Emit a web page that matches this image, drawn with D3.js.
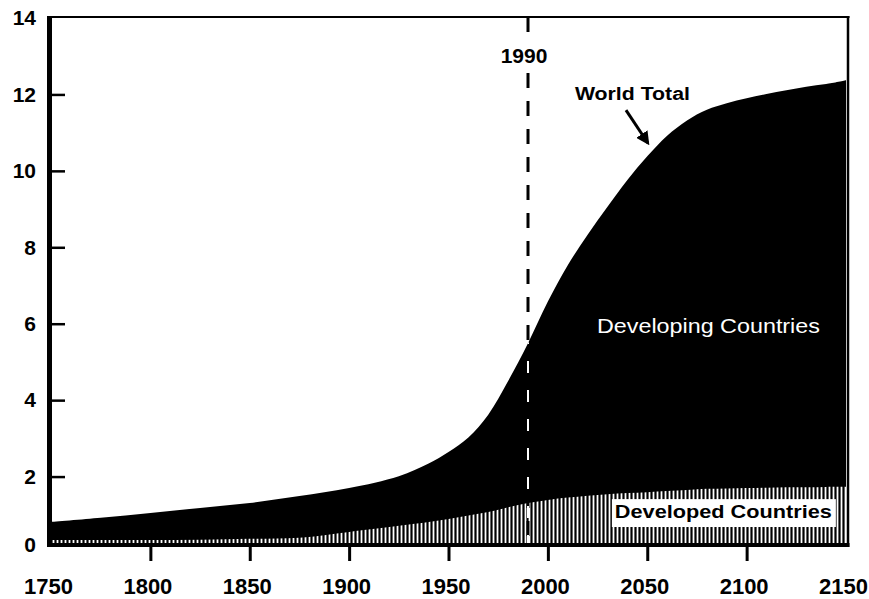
<!DOCTYPE html>
<html><head><meta charset="utf-8">
<script src="https://cdn.jsdelivr.net/npm/d3@7"></script>
<style>body{margin:0;background:#fff}</style>
</head><body>
<svg id="chart" width="869" height="599"></svg>
<script>
const years = [1750,1775,1800,1825,1850,1875,1900,1925,1940,1950,1960,1970,1980,1990,2000,2010,2020,2030,2040,2050,2060,2070,2080,2090,2100,2110,2120,2130,2140,2150];
const worldTotal = [0.81,0.92,1.05,1.18,1.31,1.49,1.70,2.01,2.34,2.64,3.02,3.62,4.50,5.49,6.58,7.53,8.33,9.06,9.76,10.38,10.92,11.32,11.60,11.77,11.90,12.01,12.11,12.20,12.27,12.37];
const developed = [0.34,0.34,0.34,0.35,0.37,0.40,0.55,0.71,0.81,0.89,0.98,1.07,1.20,1.31,1.39,1.45,1.50,1.54,1.57,1.59,1.62,1.65,1.68,1.69,1.70,1.71,1.72,1.72,1.73,1.73];
const xTickValues = [1750,1800,1850,1900,1950,2000,2050,2100,2150];
const yTickValues = [0,2,4,6,8,10,12,14];
const markerYear = 1990;
const markerLabel = "1990";
const worldLabel = "World Total";
const developingLabel = "Developing Countries";
const developedLabel = "Developed Countries";

(function () {
const svg = d3.select('#chart');
const pLeft = 49, pRight = 848, pTop = 17, pBottom = 545;
const x = d3.scaleLinear().domain([1750, 2150]).range([51, 846]);
const y = d3.scaleLinear().domain([0, 14]).range([553, 18]);
const font = "'Liberation Sans', Arial, Helvetica, sans-serif";

svg.append('rect').attr('width', 869).attr('height', 599).attr('fill', '#fff');

const defs = svg.append('defs');
defs.append('clipPath').attr('id', 'plotClip').append('rect')
  .attr('x', pLeft).attr('y', pTop).attr('width', pRight - pLeft).attr('height', pBottom - pTop + 1);
const pat = defs.append('pattern').attr('id', 'stripes')
  .attr('patternUnits', 'userSpaceOnUse').attr('width', 4).attr('height', 8);
pat.append('rect').attr('width', 4).attr('height', 8).attr('fill', '#000');
pat.append('rect').attr('x', 0.6).attr('width', 1.8).attr('height', 8).attr('fill', '#fff');

const data = years.map((yr, i) => ({year: yr, world: worldTotal[i], dev: developed[i]}));
const worldArea = d3.area().x(d => x(d.year)).y0(y(0)).y1(d => y(d.world)).curve(d3.curveCatmullRom.alpha(0.5));
const devArea = d3.area().x(d => x(d.year)).y0(y(0)).y1(d => y(d.dev)).curve(d3.curveCatmullRom.alpha(0.5));

defs.append('clipPath').attr('id', 'worldClip').append('path').attr('d', worldArea(data));

const plot = svg.append('g').attr('clip-path', 'url(#plotClip)');
plot.append('path').attr('d', worldArea(data)).attr('fill', '#000');
plot.append('path').attr('d', devArea(data)).attr('fill', 'url(#stripes)');

// 1990 dashed marker
const mx = x(markerYear);
svg.append('line').attr('x1', mx).attr('x2', mx).attr('y1', pTop).attr('y2', pBottom)
  .attr('stroke', '#000').attr('stroke-width', 3).attr('stroke-dasharray', '15 13');
svg.append('g').attr('clip-path', 'url(#worldClip)').append('line')
  .attr('x1', mx).attr('x2', mx).attr('y1', pTop).attr('y2', pBottom)
  .attr('stroke', '#fff').attr('stroke-width', 2).attr('stroke-dasharray', '12 17').attr('stroke-dashoffset', 4);

// 1990 label with white backing
const lbl = svg.append('g');
lbl.append('rect').attr('x', mx - 30).attr('y', 45).attr('width', 52).attr('height', 21).attr('fill', '#fff');
lbl.append('text').attr('x', mx - 4).attr('y', 63).attr('text-anchor', 'middle')
  .attr('font-family', font).attr('font-size', 21).attr('font-weight', 'bold').text(markerLabel);

// frame
const frame = svg.append('g').attr('stroke', '#000');
frame.append('line').attr('x1', 47).attr('x2', 849.5).attr('y1', pTop).attr('y2', pTop).attr('stroke-width', 2);
frame.append('line').attr('x1', pRight).attr('x2', pRight).attr('y1', pTop - 1).attr('y2', pBottom + 2).attr('stroke-width', 2.5);
frame.append('line').attr('x1', pLeft + 0.5).attr('x2', pLeft + 0.5).attr('y1', pTop - 1).attr('y2', pBottom + 2).attr('stroke-width', 5);
frame.append('line').attr('x1', 47).attr('x2', 849.5).attr('y1', pBottom).attr('y2', pBottom).attr('stroke-width', 4);

// y axis
const yAxis = d3.axisLeft(y).tickValues(yTickValues).tickSize(-16).tickPadding(13).tickFormat(d3.format('d'));
const gy = svg.append('g').attr('transform', `translate(${pLeft},0)`).call(yAxis);
gy.select('.domain').remove();
gy.selectAll('.tick').filter(d => d === 0).attr('transform', `translate(0,${pBottom})`);
gy.selectAll('.tick').filter(d => d === 0 || d === 14).select('line').remove();
gy.selectAll('line').attr('stroke', '#000').attr('stroke-width', 2.5);
gy.selectAll('text').attr('font-family', font).attr('font-size', 21).attr('font-weight', 'bold').attr('fill', '#000');

// x axis
const xAxis = d3.axisBottom(x).tickValues(xTickValues).tickSize(16).tickPadding(17).tickFormat(d3.format('d'));
const gx = svg.append('g').attr('transform', `translate(0,${pBottom})`).call(xAxis);
gx.select('.domain').remove();
gx.selectAll('.tick').filter(d => d === 1750 || d === 2150).select('line').remove();
gx.selectAll('line').attr('stroke', '#000').attr('stroke-width', 3);
gx.selectAll('text').attr('font-family', font).attr('font-size', 22).attr('font-weight', 'bold')
  .attr('fill', '#000').attr('dx', -3);

// World Total label + arrow
defs.append('marker').attr('id', 'arrow').attr('viewBox', '0 0 10 10').attr('refX', 8).attr('refY', 5)
  .attr('markerWidth', 4.5).attr('markerHeight', 4.5).attr('orient', 'auto')
  .append('path').attr('d', 'M0,0 L10,5 L0,10 Z').attr('fill', '#000');
svg.append('text').attr('x', x(2013.6)).attr('y', y(11.85))
  .attr('font-family', font).attr('font-size', 18).attr('font-weight', 'bold')
  .attr('textLength', 115).attr('lengthAdjust', 'spacingAndGlyphs').text(worldLabel);
svg.append('line').attr('x1', x(2039.3)).attr('y1', y(11.59)).attr('x2', x(2050.3)).attr('y2', y(10.73))
  .attr('stroke', '#000').attr('stroke-width', 3).attr('marker-end', 'url(#arrow)');

// Developing Countries label
svg.append('text').attr('x', x(2024.7)).attr('y', y(5.76))
  .attr('font-family', font).attr('font-size', 20).attr('fill', '#fff')
  .attr('textLength', 223).attr('lengthAdjust', 'spacingAndGlyphs').text(developingLabel);

// Developed Countries label
svg.append('rect').attr('x', x(2032.2)).attr('y', y(1.41)).attr('width', x(2144.9) - x(2032.2))
  .attr('height', y(0.68) - y(1.41)).attr('fill', '#fff');
svg.append('text').attr('x', x(2033.7)).attr('y', y(0.92))
  .attr('font-family', font).attr('font-size', 19).attr('font-weight', 'bold').attr('fill', '#000')
  .attr('textLength', 217).attr('lengthAdjust', 'spacingAndGlyphs').text(developedLabel);
})();
</script>
</body></html>
